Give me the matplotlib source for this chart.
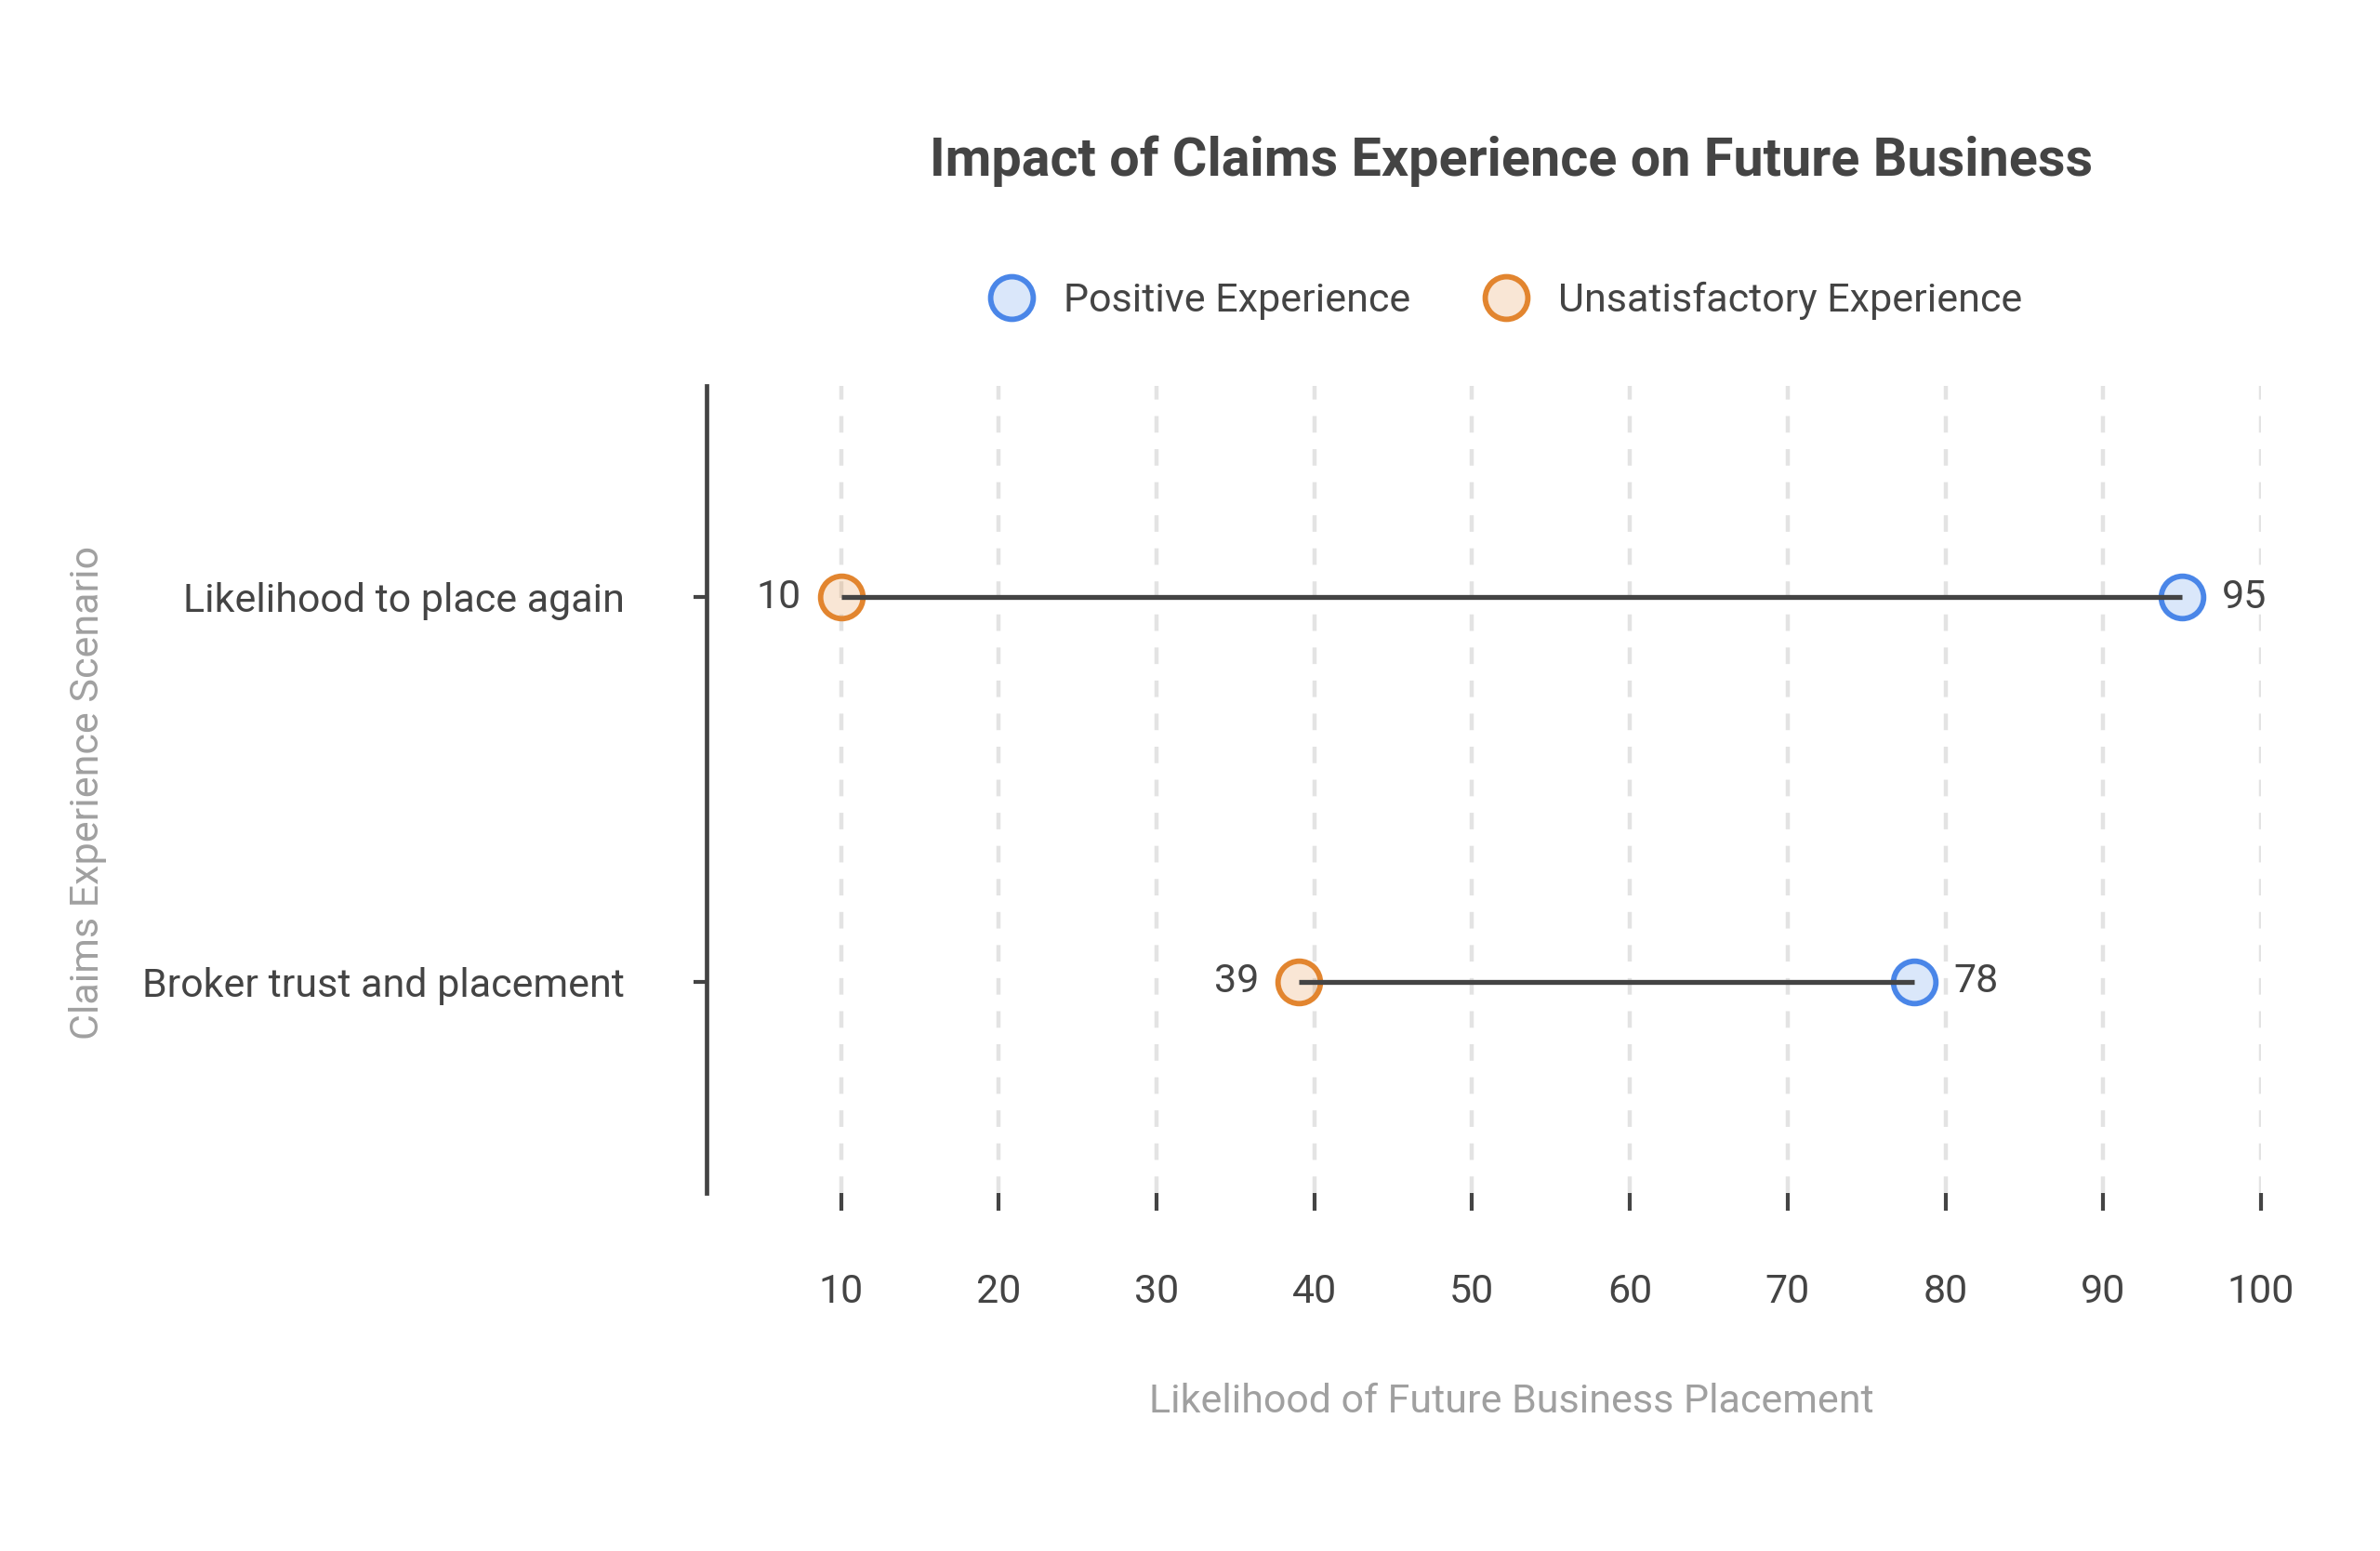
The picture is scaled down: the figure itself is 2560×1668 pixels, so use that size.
import matplotlib.pyplot as plt
from matplotlib.lines import Line2D

plt.rcParams['font.family'] = ['Roboto', 'DejaVu Sans']

# data (bottom to top)
scenarios = ['Broker trust and placement', 'Likelihood to place again']
positive = [78, 95]
unsatisfactory = [39, 10]
x_ticks = [10, 20, 30, 40, 50, 60, 70, 80, 90, 100]

DARK = '#444444'
GREY = '#a0a0a0'
BLUE = '#4a86e8'
ORANGE = '#e2852f'
BLUE_FILL = (0.29, 0.53, 0.91, 0.2)
ORANGE_FILL = (0.89, 0.52, 0.18, 0.2)


def main():
    fig = plt.figure(figsize=(12.8, 8.34), dpi=200)
    ax = fig.add_axes([0.297, 0.231, 0.653, 0.52])

    ys = list(range(len(scenarios)))

    # grid
    for xt in x_ticks:
        ax.axvline(xt, color='#e3e3e3', lw=1.6, linestyle=(0, (4, 4)), zorder=0)

    # markers
    ax.scatter(positive, ys, s=270, facecolor=BLUE_FILL, edgecolor=BLUE,
               linewidth=2.1, zorder=2)
    ax.scatter(unsatisfactory, ys, s=270, facecolor=ORANGE_FILL, edgecolor=ORANGE,
               linewidth=2.1, zorder=2)

    # connecting lines on top
    for y, p, u in zip(ys, positive, unsatisfactory):
        ax.plot([u, p], [y, y], color=DARK, lw=1.9, zorder=3, solid_capstyle='butt')
        lo, hi = min(p, u), max(p, u)
        ax.annotate(str(lo), (lo, y), xytext=(-24, 0), textcoords='offset points',
                    ha='center', va='center', fontsize=15.5, color=DARK)
        ax.annotate(str(hi), (hi, y), xytext=(24, 0), textcoords='offset points',
                    ha='center', va='center', fontsize=15.5, color=DARK)

    ax.set_xlim(1.5, 100)
    ax.set_ylim(-0.55, 1.55)
    ax.set_xticks(x_ticks)
    ax.set_yticks(ys)
    ax.set_yticklabels(scenarios)

    for side in ['top', 'right', 'bottom']:
        ax.spines[side].set_visible(False)
    ax.spines['left'].set_color(DARK)
    ax.spines['left'].set_linewidth(1.7)

    ax.tick_params(axis='x', length=7, width=1.5, color=DARK, pad=24,
                   labelsize=15.5, labelcolor=DARK)
    ax.tick_params(axis='y', length=5, width=1.5, color=DARK, pad=27,
                   labelsize=15.5, labelcolor=DARK)

    fig.text(0.635, 0.896, 'Impact of Claims Experience on Future Business',
             ha='center', va='center', fontsize=20.7, fontweight='bold', color=DARK)
    fig.text(0.635, 0.096, 'Likelihood of Future Business Placement',
             ha='center', va='center', fontsize=15.5, color=GREY)
    fig.text(0.037, 0.489, 'Claims Experience Scenario', rotation=90,
             ha='center', va='center', fontsize=15.5, color=GREY)

    handles = [
        Line2D([], [], linestyle='none', marker='o', markersize=16.5,
               markerfacecolor=BLUE_FILL, markeredgecolor=BLUE,
               markeredgewidth=2.1, label='Positive Experience'),
        Line2D([], [], linestyle='none', marker='o', markersize=16.5,
               markerfacecolor=ORANGE_FILL, markeredgecolor=ORANGE,
               markeredgewidth=2.1, label='Unsatisfactory Experience'),
    ]
    leg = fig.legend(handles=handles, loc='center', bbox_to_anchor=(0.629, 0.806),
                     ncol=2, frameon=False, fontsize=15.5, handletextpad=0.3,
                     columnspacing=1.4)
    for t in leg.get_texts():
        t.set_color(DARK)

    fig.savefig('out.png', dpi=200)
    plt.close(fig)


if __name__ == '__main__':
    main()
